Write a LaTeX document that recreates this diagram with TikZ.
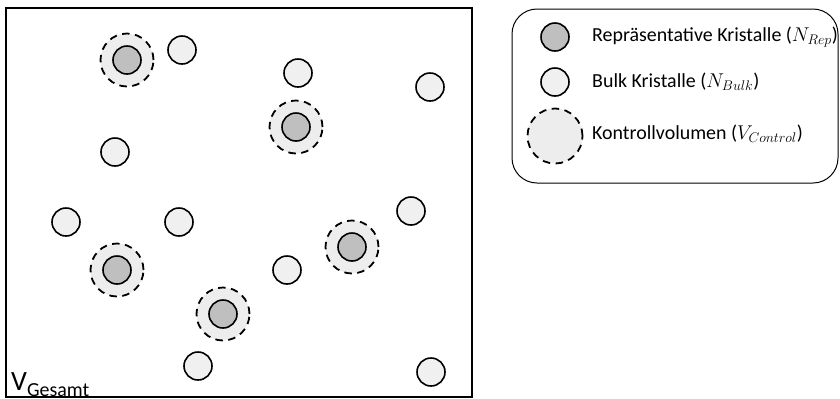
\documentclass[tikz,border=0pt]{standalone}
\usepackage{fix-cm}
\usepackage{fontspec}
\setmainfont{Carlito}
\begin{document}
\begin{tikzpicture}[x=1bp,y=-1bp,
  bulk/.style={circle,draw=black,fill=bulkfill,line width=1.6bp,minimum size=28bp,inner sep=0pt},
  rep/.style={circle,draw=black,fill=repfill,line width=1.6bp,minimum size=28bp,inner sep=0pt},
  ctrl/.style={circle,draw=black,fill=ctrlfill,line width=1.8bp,dash pattern=on 7.5bp off 5.5bp,minimum size=53bp,inner sep=0pt},
  legtext/.style={anchor=west,inner sep=0pt,font=\fontsize{20}{24}\selectfont}]
\definecolor{bulkfill}{HTML}{F0F0F0}
\definecolor{repfill}{HTML}{BFBFBF}
\definecolor{ctrlfill}{HTML}{EDEDED}
\useasboundingbox (0,0) rectangle (840,398);

% total volume
\draw[line width=2bp] (6,8) rectangle (472,397);
\node[anchor=base west,inner sep=0pt,font=\fontsize{28}{32}\selectfont] (vg) at (11,390)
  {V\raisebox{-6bp}{\fontsize{20}{24}\selectfont Gesamt}};

% representative crystals with their control volumes
\foreach \n/\x/\y in {ra/127/60, rb/296/127, rc/117/270, rd/352/247, re/223/314}{
  \node[ctrl] (\n c) at (\x,\y) {};
  \node[rep] (\n) at (\x,\y) {};
}

% bulk crystals
\foreach \n/\x/\y in {b1/182/50, b2/298/73, b3/430/87, b4/115/152, b5/66/222,
                      b6/179/222, b7/411/211, b8/287/270, b9/198/366, b10/431/372}{
  \node[bulk] (\n) at (\x,\y) {};
}

% legend
\draw[line width=1bp,rounded corners=25bp] (512,9) rectangle (838,183);
\node[rep] (lrep) at (555,37) {};
\node[bulk] (lbulk) at (555,82) {};
\node[ctrl,minimum size=55bp] (lctrl) at (555,136) {};
\node[legtext] (trep) at (592,37) {Repräsentative Kristalle ($N_{Rep}$)};
\node[legtext] (tbulk) at (592,82) {Bulk Kristalle ($N_{Bulk}$)};
\node[legtext] (tctrl) at (592,134) {Kontrollvolumen ($V_{Control}$)};
\end{tikzpicture}
\end{document}
